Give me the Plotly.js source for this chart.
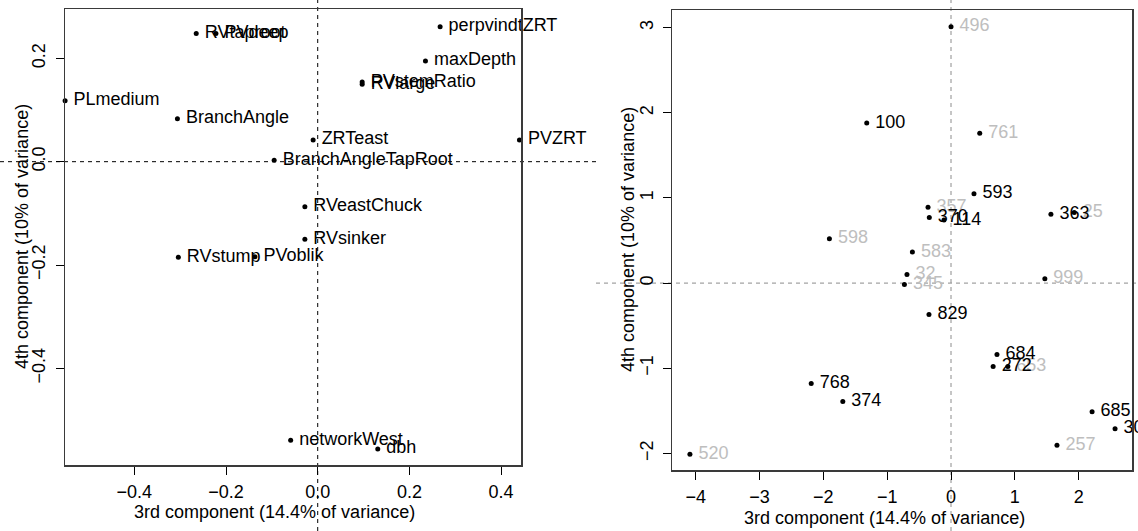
<!DOCTYPE html>
<html>
<head>
<meta charset="utf-8">
<script src="https://cdn.plot.ly/plotly-3.0.1.min.js"></script>
<style>html,body{margin:0;padding:0;background:#fff;}#chart{width:1138px;height:531px;}</style>
</head>
<body>
<div id="chart"></div>
<script>
// ---- Left panel: variable loadings (3rd vs 4th component) ----
var loadNames = ["PLmedium","BranchAngle","RVtaproot","PVdeep","perpvindtZRT","maxDepth","RVlarge","PVstemRatio","ZRTeast","BranchAngleTapRoot","PVZRT","RVeastChuck","RVsinker","RVstump","PVoblik","networkWest","dbh"];
var loadX = [-0.551,-0.306,-0.265,-0.222,0.267,0.235,0.097,0.097,-0.010,-0.095,0.440,-0.028,-0.028,-0.304,-0.137,-0.059,0.131];
var loadY = [0.118,0.083,0.248,0.248,0.261,0.195,0.150,0.154,0.042,0.003,0.042,-0.087,-0.150,-0.185,-0.184,-0.539,-0.556];

// ---- Right panel: observation scores ----
var scoreLabels = ["496","100","761","593","357","370","114","363","25","598","583","32","345","999","829","684","272","653","685","30","257","768","374","520"];
var scoreX = [0.00,-1.32,0.45,0.36,-0.36,-0.34,-0.11,1.565,1.93,-1.905,-0.605,-0.69,-0.73,1.47,-0.345,0.72,0.66,0.89,2.21,2.57,1.66,-2.19,-1.695,-4.09];
var scoreY = [3.01,1.88,1.76,1.05,0.89,0.77,0.74,0.81,0.83,0.52,0.365,0.10,-0.015,0.05,-0.37,-0.84,-0.98,-0.98,-1.51,-1.71,-1.905,-1.18,-1.39,-2.01];
var scoreHighlighted = [false,true,false,true,false,true,true,true,false,false,false,false,false,false,true,true,true,false,true,true,false,true,true,false];

// axis ticks
var leftXTicks = [-0.4,-0.2,0,0.2,0.4];
var leftYTicks = [-0.4,-0.2,0,0.2];
var rightXTicks = [-4,-3,-2,-1,0,1,2];
var rightYTicks = [-2,-1,0,1,2,3];

var xTitle = "3rd component (14.4% of variance)";
var yTitle = "4th component (10% of variance)";

// ---- styles ----
var FONT = "Liberation Sans, Arial, Helvetica, sans-serif";
var W = 1138, H = 531;
function pick(arr, flags, want){ return arr.filter(function(_, i){ return flags[i] === want; }); }

var traces = [];
// left labels (invisible spacer marker pushes text right of the dot)
traces.push({x: loadX, y: loadY, text: loadNames, mode: "markers+text", textposition: "middle right",
  marker: {size: 12, color: "rgba(0,0,0,0)"}, textfont: {family: FONT, size: 18, color: "#000"},
  cliponaxis: false, hoverinfo: "skip", showlegend: false, xaxis: "x", yaxis: "y"});
traces.push({x: loadX, y: loadY, mode: "markers", marker: {size: 5, color: "#000"},
  cliponaxis: false, hoverinfo: "skip", showlegend: false, xaxis: "x", yaxis: "y"});

// right labels: gray first, then black on top
[false, true].forEach(function(flag){
  traces.push({x: pick(scoreX, scoreHighlighted, flag), y: pick(scoreY, scoreHighlighted, flag),
    text: pick(scoreLabels, scoreHighlighted, flag), mode: "markers+text", textposition: "middle right",
    marker: {size: 12, color: "rgba(0,0,0,0)"},
    textfont: {family: FONT, size: 18, color: flag ? "#000" : "#bebebe"},
    cliponaxis: false, hoverinfo: "skip", showlegend: false, xaxis: "x2", yaxis: "y2"});
});
traces.push({x: scoreX, y: scoreY, mode: "markers", marker: {size: 5, color: "#000"},
  cliponaxis: false, hoverinfo: "skip", showlegend: false, xaxis: "x2", yaxis: "y2"});

function axisBase(extra){
  var a = {showgrid: false, zeroline: false, showline: true, mirror: true, linecolor: "#3a3a3a", linewidth: 1.5,
    ticks: "outside", ticklen: 8, tickwidth: 1, tickcolor: "#000",
    tickfont: {family: FONT, size: 18, color: "#000"}, fixedrange: true};
  for (var k in extra) a[k] = extra[k];
  return a;
}

var layout = {
  width: W, height: H, margin: {l: 0, r: 0, t: 0, b: 0},
  paper_bgcolor: "#fff", plot_bgcolor: "rgba(0,0,0,0)", showlegend: false,
  font: {family: FONT, size: 18, color: "#000"},
  xaxis: axisBase({domain: [65/W, 521/W], range: [-0.5512, 0.4434], tickvals: leftXTicks, tickformat: ".1f", anchor: "y", ticklabelstandoff: 2}),
  yaxis: axisBase({domain: [1-465.3/H, 1-9.3/H], range: [-0.5876, 0.2949], tickvals: leftYTicks, tickformat: ".1f", tickangle: -90, anchor: "x", ticklabelstandoff: 3}),
  xaxis2: axisBase({domain: [672.3/W, 1132.3/W], range: [-4.366, 2.840], tickvals: rightXTicks, anchor: "y2", ticklabelstandoff: 2}),
  yaxis2: axisBase({domain: [1-470.3/H, 1-10/H], range: [-2.199, 3.208], tickvals: rightYTicks, tickangle: -90, anchor: "x2", ticklabelstandoff: 3}),
  shapes: [
    {type: "line", xref: "x", yref: "paper", x0: 0, x1: 0, y0: 0, y1: 1, layer: "below", line: {color: "#000", width: 1, dash: "4px,4px"}},
    {type: "line", xref: "paper", yref: "y", x0: 0, x1: 596/W, y0: 0, y1: 0, layer: "below", line: {color: "#000", width: 1, dash: "4px,4px"}},
    {type: "line", xref: "x2", yref: "paper", x0: 0, x1: 0, y0: 0, y1: 1, layer: "below", line: {color: "#8c8c8c", width: 1, dash: "4px,4px"}},
    {type: "line", xref: "paper", yref: "y2", x0: 596/W, x1: 1, y0: 0, y1: 0, layer: "below", line: {color: "#8c8c8c", width: 1, dash: "4px,4px"}}
  ],
  annotations: [
    {text: xTitle, xref: "paper", yref: "paper", x: 274/W, y: 1-511.7/H, showarrow: false, xanchor: "center", yanchor: "middle", font: {family: FONT, size: 18, color: "#000"}},
    {text: xTitle, xref: "paper", yref: "paper", x: 884.5/W, y: 1-517.7/H, showarrow: false, xanchor: "center", yanchor: "middle", font: {family: FONT, size: 18, color: "#000"}},
    {text: yTitle, xref: "paper", yref: "paper", x: 22/W, y: 1-237/H, showarrow: false, textangle: -90, xanchor: "center", yanchor: "middle", font: {family: FONT, size: 18, color: "#000"}},
    {text: yTitle, xref: "paper", yref: "paper", x: 628/W, y: 1-240/H, showarrow: false, textangle: -90, xanchor: "center", yanchor: "middle", font: {family: FONT, size: 18, color: "#000"}}
  ]
};

Plotly.newPlot("chart", traces, layout, {displayModeBar: false, staticPlot: true});
</script>
</body>
</html>
